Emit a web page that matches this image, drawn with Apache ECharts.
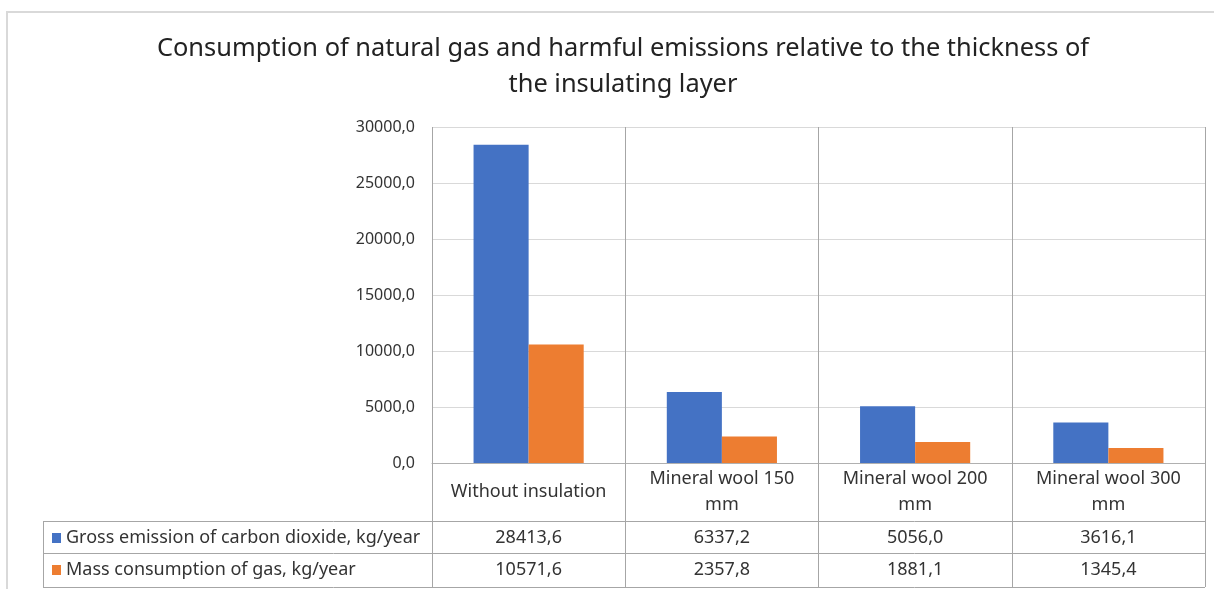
<!DOCTYPE html>
<html>
<head>
<meta charset="utf-8">
<script src="https://cdn.jsdelivr.net/npm/echarts@6/dist/echarts.min.js"></script>
<style>
html,body{margin:0;padding:0;background:#fff;}
#chart{width:1214px;height:589px;}
</style>
</head>
<body>
<div id="chart"></div>
<script>
const titleText = 'Consumption of natural gas and harmful emissions relative to the thickness of\nthe insulating layer';
const categories = ['Without insulation', 'Mineral wool 150 mm', 'Mineral wool 200 mm', 'Mineral wool 300 mm'];
const seriesNames = ['Gross emission of carbon dioxide, kg/year', 'Mass consumption of gas, kg/year'];
const co2Values = [28413.6, 6337.2, 5056.0, 3616.1];
const gasValues = [10571.6, 2357.8, 1881.1, 1345.4];
const seriesColors = ['#4472C4', '#ED7D31'];
const yMin = 0, yMax = 30000, yInterval = 5000;

const FONT = 'Noto Sans';
const TXT = '#333333';
const fmt = v => v.toFixed(1).replace('.', ',');

const chart = echarts.init(document.getElementById('chart'));
const option = {
  animation: false,
  title: {
    text: titleText,
    left: 618, top: 26, textAlign: 'center',
    textStyle: {fontFamily: FONT, fontSize: 25.4, fontWeight: 'normal', color: '#222', lineHeight: 36}
  },
  grid: {left: 432, right: 9, top: 127, bottom: 126},
  xAxis: {
    type: 'category',
    data: categories,
    boundaryGap: true,
    axisLine: {show: true, lineStyle: {color: '#b0b0b0', width: 1}},
    axisTick: {show: true, interval: 0, length: 124, lineStyle: {color: '#a6a6a6'}},
    splitLine: {show: true, interval: 0, lineStyle: {color: '#a6a6a6'}},
    axisLabel: {
      interval: 0, margin: 29, verticalAlign: 'middle', lineHeight: 26,
      fontFamily: FONT, fontSize: 18, color: TXT,
      formatter: v => v.replace(' mm', '\nmm')
    }
  },
  yAxis: {
    type: 'value', min: yMin, max: yMax, interval: yInterval,
    axisLine: {show: false}, axisTick: {show: false},
    splitLine: {lineStyle: {color: '#d9d9d9', width: 1}},
    axisLabel: {margin: 17, fontFamily: FONT, fontSize: 16, color: TXT, formatter: v => fmt(v)}
  },
  series: [
    {name: seriesNames[0], type: 'bar', data: co2Values, itemStyle: {color: seriesColors[0]}, barGap: '0%', barCategoryGap: '43%'},
    {name: seriesNames[1], type: 'bar', data: gasValues, itemStyle: {color: seriesColors[1]}, barGap: '0%', barCategoryGap: '43%'}
  ]
};
chart.setOption(option);

function drawTable() {
  const gridRect = chart.getModel().getComponent('grid').coordinateSystem.getRect();
  const right = gridRect.x + gridRect.width;
  const axisY = gridRect.y + gridRect.height;
  const tableLeft = 43;
  const row1Top = axisY + 58, row2Top = row1Top + 32, tableBottom = row2Top + 34;
  const lineColor = '#a6a6a6';
  const g = [];
  g.push({type: 'polyline', shape: {points: [[7, 600], [7, 12], [1220, 12]]}, style: {stroke: '#d9d9d9', lineWidth: 2, fill: null}, silent: true});
  [row1Top, row2Top, tableBottom].forEach(y => {
    g.push({type: 'line', shape: {x1: tableLeft, y1: y + 0.5, x2: right, y2: y + 0.5}, style: {stroke: lineColor, lineWidth: 1}, silent: true});
  });
  g.push({type: 'line', shape: {x1: tableLeft + 0.5, y1: row1Top, x2: tableLeft + 0.5, y2: tableBottom}, style: {stroke: lineColor, lineWidth: 1}, silent: true});
  const rows = [co2Values, gasValues];
  const rowCenters = [(row1Top + row2Top) / 2 + 1, (row2Top + tableBottom) / 2];
  const font = '18px "' + FONT + '"';
  rows.forEach((vals, r) => {
    const cy = rowCenters[r];
    g.push({type: 'rect', shape: {x: tableLeft + 9, y: cy - 5, width: 9, height: 10}, style: {fill: seriesColors[r]}, silent: true});
    g.push({type: 'text', x: tableLeft + 23, y: cy, style: {text: seriesNames[r], font: font, fill: TXT, textAlign: 'left', textVerticalAlign: 'middle'}, silent: true});
    vals.forEach((v, i) => {
      const cx = chart.convertToPixel({xAxisIndex: 0}, categories[i]);
      g.push({type: 'text', x: cx, y: cy, style: {text: fmt(v), font: font, fill: TXT, textAlign: 'center', textVerticalAlign: 'middle'}, silent: true});
    });
  });
  chart.setOption({graphic: g});
}
drawTable();
</script>
</body>
</html>
